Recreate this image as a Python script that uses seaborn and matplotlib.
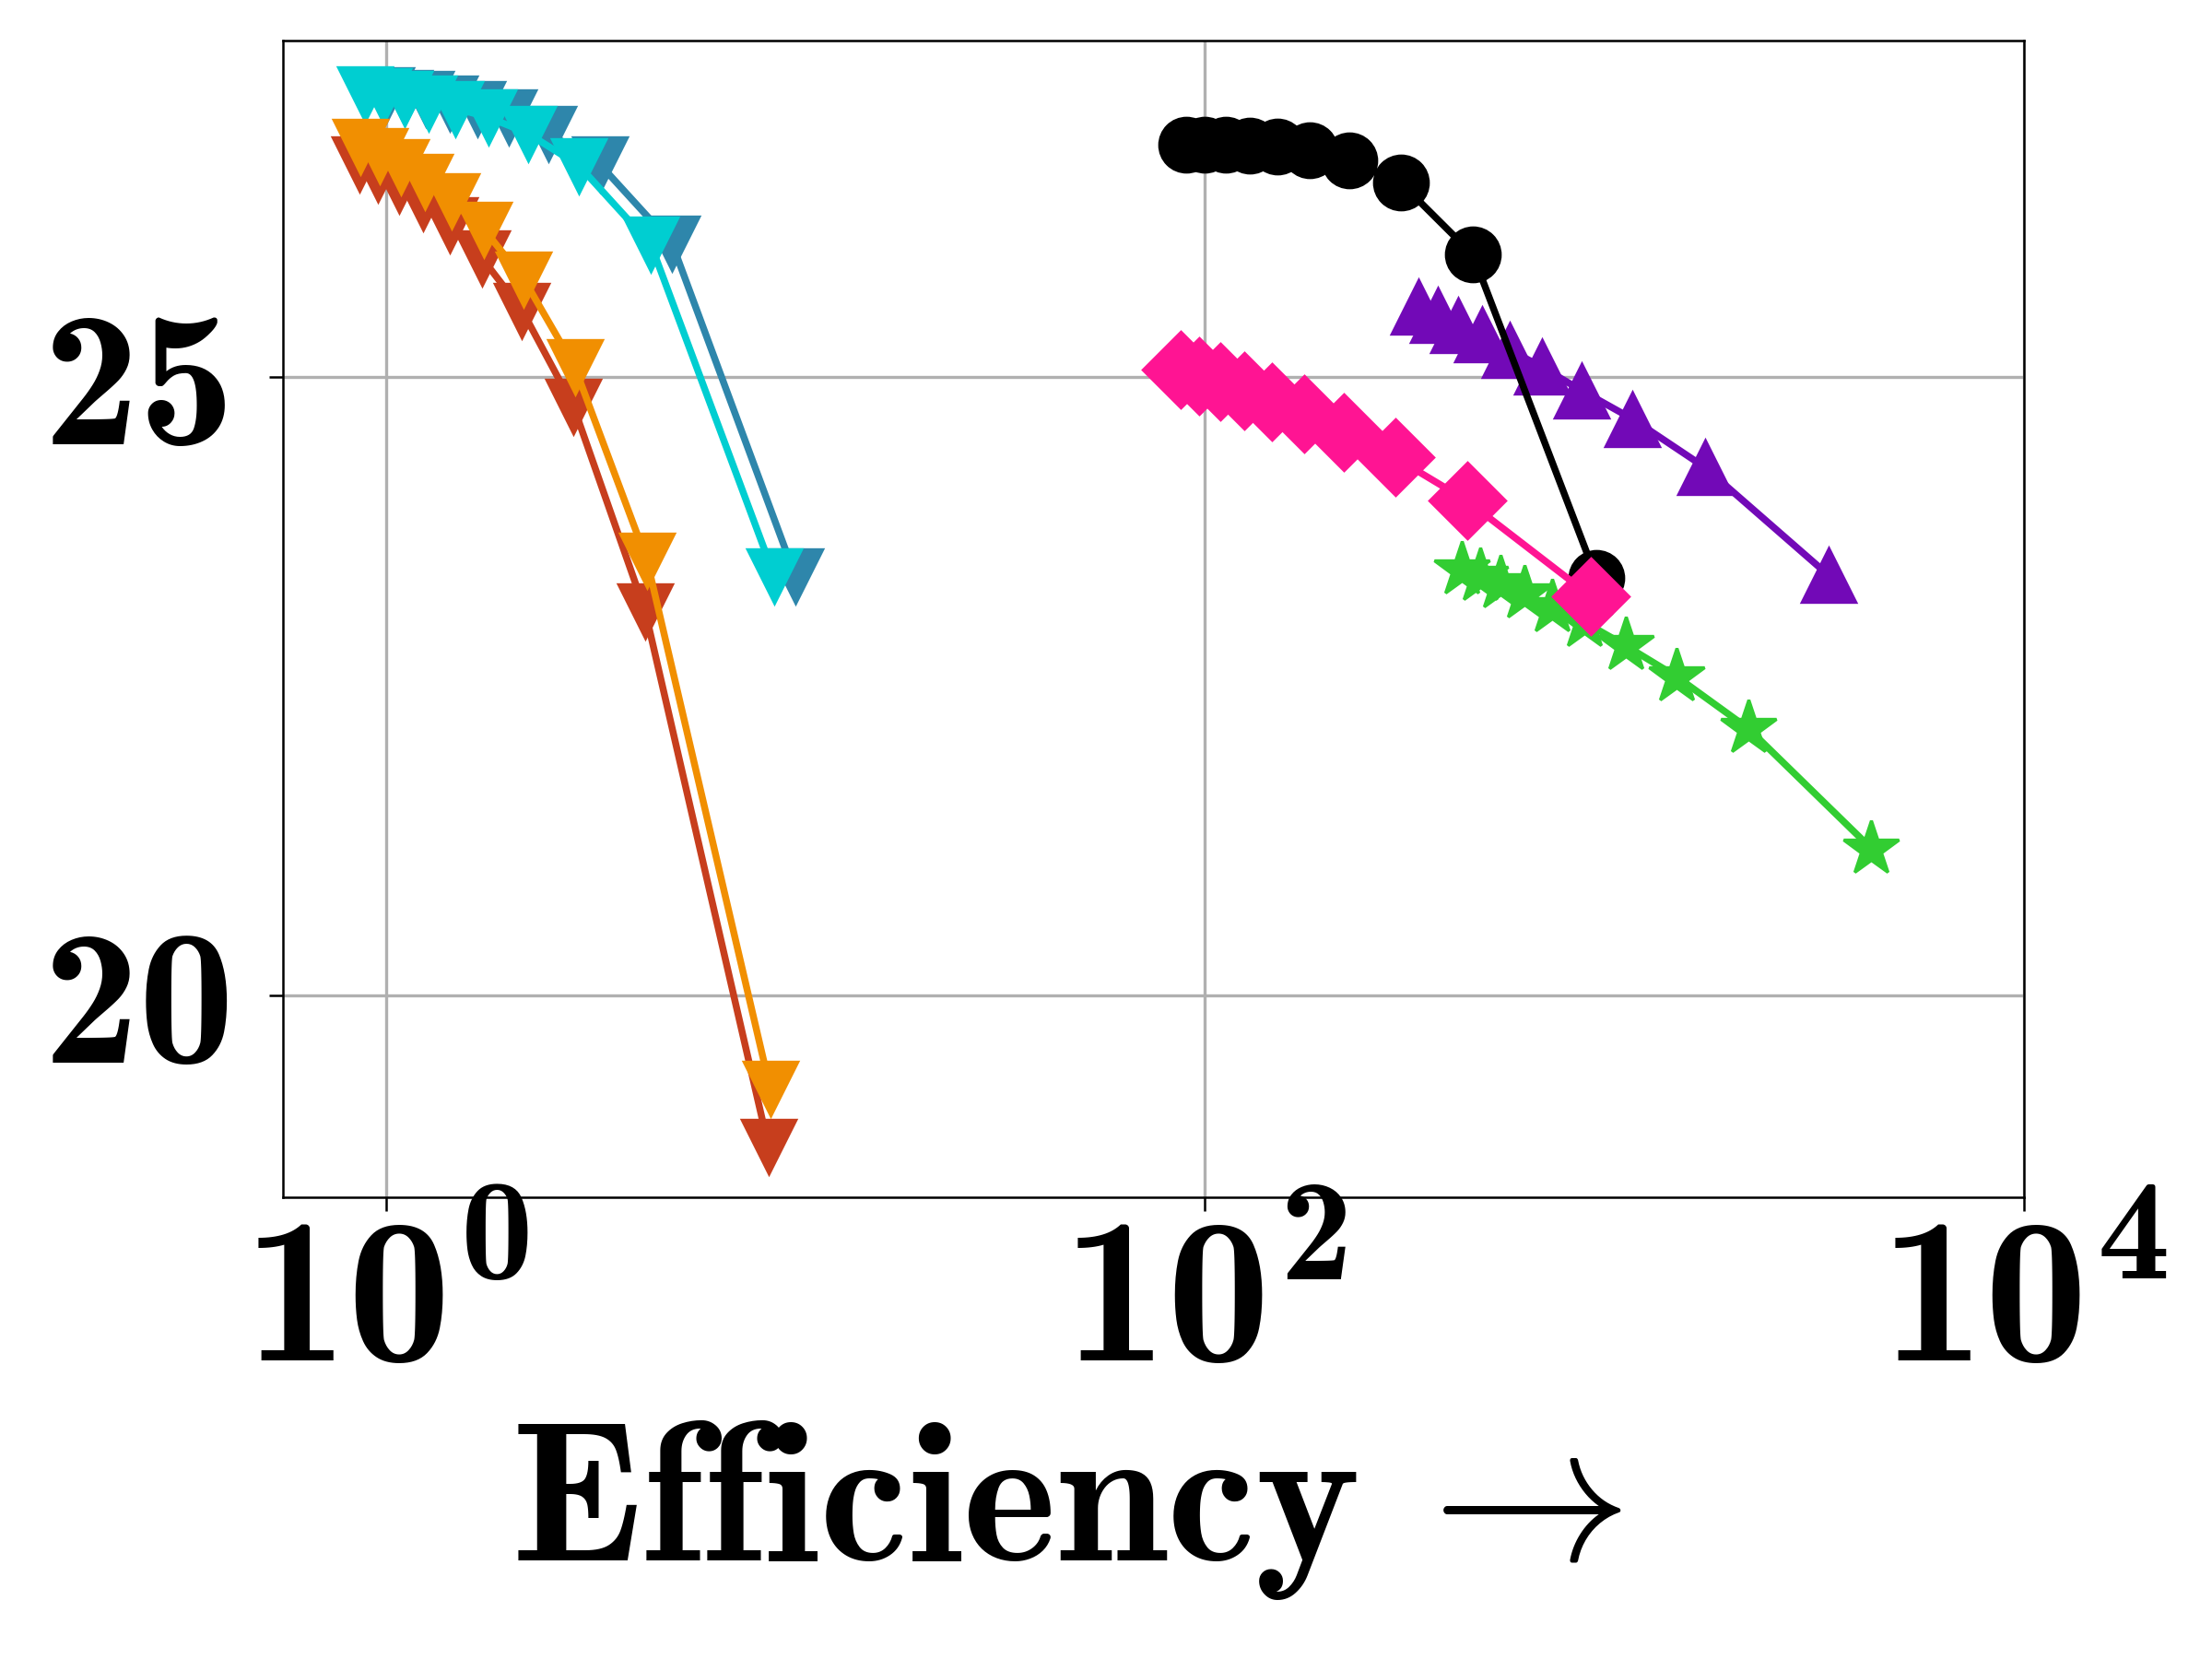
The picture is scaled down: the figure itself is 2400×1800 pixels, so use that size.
import matplotlib
matplotlib.use("Agg")
import matplotlib.pyplot as plt
import matplotlib.ticker as mticker
import seaborn as sns
import pandas as pd

# efficiency (x) and score (y) per series
steel_x = [1.0, 1.11, 1.25, 1.43, 1.67, 2.0, 2.5, 3.33, 5.0, 10.0]
steel_y = [27.28, 27.26, 27.25, 27.21, 27.17, 27.10, 26.97, 26.72, 26.08, 23.39]
cyan_x = [0.889, 0.988, 1.11, 1.27, 1.48, 1.78, 2.22, 2.96, 4.44, 8.89]
cyan_y = [27.29, 27.27, 27.25, 27.21, 27.17, 27.10, 26.97, 26.71, 26.07, 23.39]
red_x = [0.862, 0.956, 1.075, 1.23, 1.434, 1.719, 2.151, 2.875, 4.297, 8.60]
red_y = [26.72, 26.64, 26.55, 26.41, 26.23, 25.96, 25.54, 24.76, 23.11, 18.78]
orange_x = [0.868, 0.966, 1.086, 1.243, 1.451, 1.74, 2.174, 2.894, 4.34, 8.68]
orange_y = [26.86, 26.79, 26.70, 26.58, 26.42, 26.19, 25.79, 25.08, 23.52, 19.25]
purple_x = [333, 370, 416, 474, 555, 665, 832, 1108, 1663, 3327]
purple_y = [25.57, 25.50, 25.42, 25.34, 25.22, 25.08, 24.89, 24.66, 24.27, 23.40]
black_x = [90.2, 100, 112.3, 128.5, 150.1, 180.1, 225.4, 300.8, 451, 902.8]
black_y = [26.88, 26.88, 26.88, 26.87, 26.86, 26.83, 26.75, 26.57, 25.99, 23.38]
green_x = [424.8, 471.1, 526.9, 601.9, 705.5, 842.6, 1063.6, 1416.2, 2121, 4236]
green_y = [23.44, 23.39, 23.33, 23.25, 23.14, 23.02, 22.83, 22.58, 22.16, 21.19]
pink_x = [87.4, 96.9, 109.2, 124.7, 145.7, 174.6, 218.2, 291.1, 436.5, 874.8]
pink_y = [25.06, 25.01, 24.96, 24.89, 24.80, 24.70, 24.55, 24.35, 24.00, 23.23]

series = [
    (steel_x, steel_y, "#2E86AB", "v"),
    (cyan_x, cyan_y, "#00CED1", "v"),
    (red_x, red_y, "#C73E1D", "v"),
    (orange_x, orange_y, "#F18F01", "v"),
    (purple_x, purple_y, "#7209B7", "^"),
    (black_x, black_y, "black", "o"),
    (green_x, green_y, "#32CD32", "*"),
    (pink_x, pink_y, "#FF1493", "D"),
]

sns.set_style("ticks")
plt.rcParams["font.family"] = ["cmb10", "DejaVu Serif"]
plt.rcParams["mathtext.fontset"] = "custom"
plt.rcParams["mathtext.rm"] = "cmb10"
plt.rcParams["mathtext.bf"] = "cmb10"
plt.rcParams["axes.unicode_minus"] = False
for key in ["text.color", "axes.labelcolor", "xtick.color", "ytick.color",
            "xtick.labelcolor", "ytick.labelcolor"]:
    plt.rcParams[key] = "black"

fig, ax = plt.subplots(figsize=(8, 6), dpi=300)
fig.subplots_adjust(left=0.1278, right=0.915, top=0.9756, bottom=0.2783)

ax.set_xscale("log")
for xs, ys, color, marker in series:
    frame = pd.DataFrame({"x": xs, "y": ys})
    ms = 15 if marker == "*" else 14
    sns.lineplot(x="x", y="y", data=frame, ax=ax, sort=False, estimator=None,
                 color=color, marker=marker, markersize=ms, linewidth=1.8,
                 markeredgecolor=color, markeredgewidth=0.8)

ax.set_xlim(0.56, 1e4)
ax.set_ylim(18.37, 27.72)
ax.xaxis.set_major_locator(mticker.FixedLocator([1, 100, 10000]))
ax.xaxis.set_minor_locator(mticker.NullLocator())
ax.yaxis.set_major_locator(mticker.FixedLocator([20, 25]))

ax.grid(True, color="#b0b0b0", linewidth=0.8)
ax.set_axisbelow(True)
for spine in ax.spines.values():
    spine.set_color("black")
    spine.set_linewidth(0.6)

ax.tick_params(axis="both", length=3.5, width=0.6, color="black")
ax.tick_params(axis="y", labelsize=50, pad=9)
ax.tick_params(axis="x", labelsize=54, pad=2)
ax.set_xlabel(r"Efficiency$\,\rightarrow$", fontsize=52)
ax.xaxis.set_label_coords(0.45, -0.19)
ax.xaxis.label.set_va("top")
ax.set_ylabel("")

fig.savefig("out.png", dpi=300)
